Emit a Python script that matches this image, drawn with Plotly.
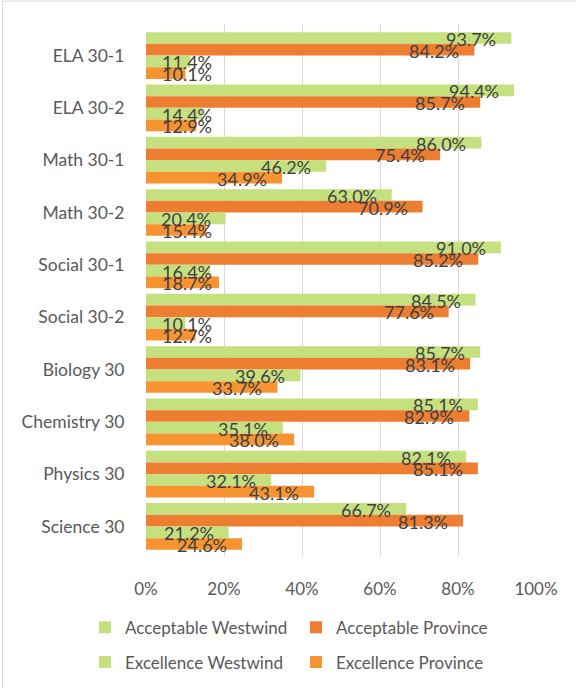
import plotly.graph_objects as go

categories = ["ELA 30-1", "ELA 30-2", "Math 30-1", "Math 30-2", "Social 30-1",
              "Social 30-2", "Biology 30", "Chemistry 30", "Physics 30", "Science 30"]
acceptable_westwind = [93.7, 94.4, 86.0, 63.0, 91.0, 84.5, 85.7, 85.1, 82.1, 66.7]
acceptable_province = [84.2, 85.7, 75.4, 70.9, 85.2, 77.6, 83.1, 82.9, 85.1, 81.3]
excellence_westwind = [11.4, 14.4, 46.2, 20.4, 16.4, 10.1, 39.6, 35.1, 32.1, 21.2]
excellence_province = [10.1, 12.9, 34.9, 15.4, 18.7, 12.7, 33.7, 38.0, 43.1, 24.6]
x_ticks = [0, 20, 40, 60, 80, 100]
x_tick_labels = ["0%", "20%", "40%", "60%", "80%", "100%"]

series = [
    ("Acceptable Westwind", acceptable_westwind, "#C5E07F", "legend"),
    ("Acceptable Province", acceptable_province, "#ED7D31", "legend"),
    ("Excellence Westwind", excellence_westwind, "#C5E07F", "legend2"),
    ("Excellence Province", excellence_province, "#F79331", "legend2"),
]

FONT = "Lato"
bargap = 0.107
n = len(series)
bw = (1 - bargap) / n

fig = go.Figure()
annotations = []
for i, (name, vals, color, leg) in enumerate(series):
    fig.add_trace(go.Bar(
        y=categories, x=vals, name=name, orientation="h",
        marker=dict(color=color, line=dict(width=0)),
        legend=leg, hoverinfo="x+y+name",
    ))
    off = -(1 - bargap) / 2 + (i + 0.5) * bw
    for ci, v in enumerate(vals):
        small = v < 19
        annotations.append(dict(
            x=0 if small else v, y=ci + off, xref="x", yref="y",
            text=f"{v:.1f}%", showarrow=False,
            xanchor="left" if small else "right",
            xshift=14 if small else -13, yshift=-1,
            font=dict(family=FONT, size=18, color="#404040"),
        ))

L, R, T, B = 146, 40, 24, 133
W, H = 576, 692
pw, ph = W - L - R, H - T - B

def px2x(p):
    return (p - L) / pw

def px2y(p):
    return (H - B - p) / ph

legend_font = dict(family=FONT, size=17, color="#595959")

fig.update_layout(
    width=W, height=H,
    margin=dict(l=L, r=R, t=T, b=B, pad=0),
    paper_bgcolor="white", plot_bgcolor="white",
    barmode="group", bargap=bargap, bargroupgap=0,
    font=dict(family=FONT, size=17, color="#595959"),
    xaxis=dict(range=[0, 100], tickvals=x_ticks, ticktext=x_tick_labels,
               showgrid=True, gridcolor="#D9D9D9", gridwidth=1,
               zeroline=False, showline=False,
               ticks="outside", ticklen=18, tickcolor="rgba(0,0,0,0)",
               tickfont=dict(family=FONT, size=17, color="#595959"),
               fixedrange=True),
    yaxis=dict(autorange="reversed", showgrid=False, showline=False,
               ticks="outside", ticklen=17, tickcolor="rgba(0,0,0,0)",
               tickfont=dict(family=FONT, size=17.5, color="#595959"),
               fixedrange=True),
    legend=dict(orientation="h", x=px2x(85), y=px2y(631), xanchor="left", yanchor="middle",
                entrywidth=166, font=legend_font,
                bgcolor="rgba(0,0,0,0)", traceorder="normal"),
    legend2=dict(orientation="h", x=px2x(85), y=px2y(666), xanchor="left", yanchor="middle",
                 entrywidth=166, font=legend_font,
                 bgcolor="rgba(0,0,0,0)", traceorder="normal"),
    annotations=annotations,
    shapes=[
        dict(type="line", xref="paper", yref="paper", x0=px2x(2.5), x1=px2x(576),
             y0=px2y(1), y1=px2y(1), line=dict(color="#D9D9D9", width=1)),
        dict(type="line", xref="paper", yref="paper", x0=px2x(2.5), x1=px2x(2.5),
             y0=px2y(1), y1=px2y(692), line=dict(color="#D9D9D9", width=1)),
    ],
    showlegend=True,
)

fig.write_html("out.html")
